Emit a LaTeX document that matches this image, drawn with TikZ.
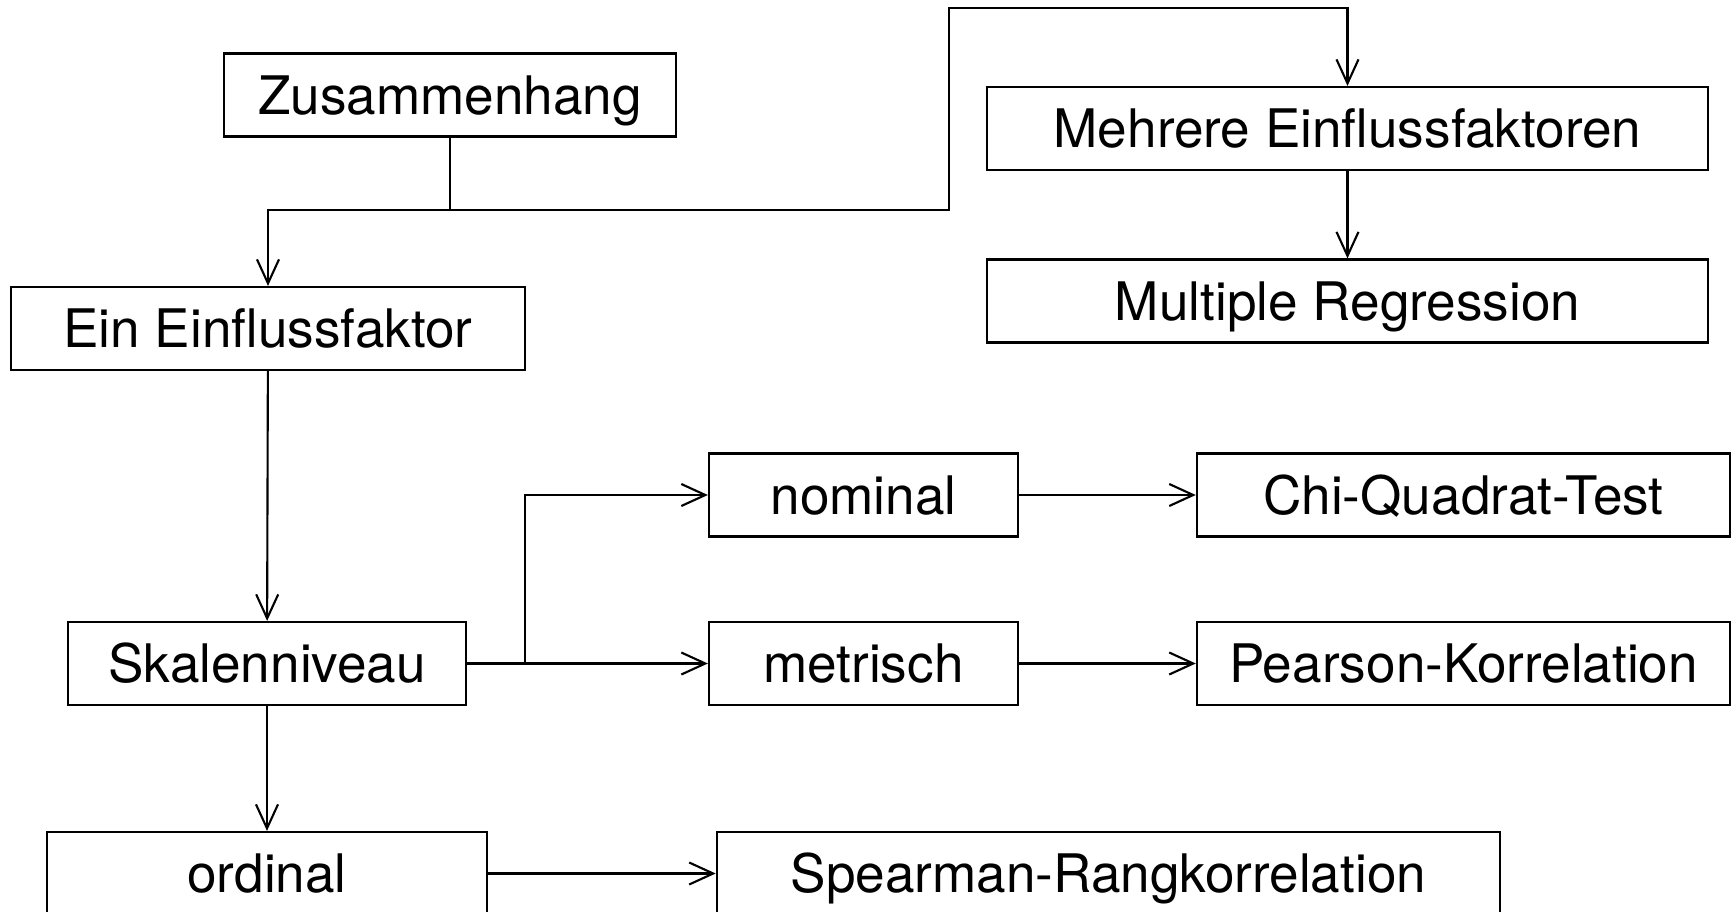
\documentclass[tikz,border=0pt]{standalone}
\usepackage{fontspec}
\setmainfont{TeX Gyre Heros}
\usetikzlibrary{arrows.meta}
\tikzset{
  box/.style={
    draw, line width=0.6pt, inner sep=0pt,
    minimum height=0.83cm, text height=11pt, text depth=0pt,
    font=\fontsize{15.1}{18}\selectfont
  }
}
\tikzset{
  link/.style={line width=0.6pt},
  arr/.style={line width=0.6pt, -{Straight Barb[length=2.4mm,width=2.2mm]}},
}

\begin{document}
\begin{tikzpicture}[x=0.01cm,y=-0.01cm]
\useasboundingbox (0,0) rectangle (1732,912);
\clip (0,0) rectangle (1732,912);

% boxes
\node[box, minimum width=4.52cm] (zus) at (450,95) {Zusammenhang};
\node[box, minimum width=7.21cm] (mehrere) at (1347.5,128.5) {Mehrere Einflussfaktoren};
\node[box, minimum width=7.21cm] (multreg) at (1347.5,301) {Multiple Regression};
\node[box, minimum width=5.14cm] (ein) at (268,328.5) {Ein Einflussfaktor};
\node[box, minimum width=3.98cm] (skala) at (267,663.5) {Skalenniveau};
\node[box, minimum width=3.09cm] (nominal) at (863.5,495) {nominal};
\node[box, minimum width=3.09cm] (metrisch) at (863.5,663.5) {metrisch};
\node[box, minimum width=5.33cm] (chi) at (1463.5,495) {Chi-Quadrat-Test};
\node[box, minimum width=5.33cm] (pearson) at (1463.5,663.5) {Pearson-Korrelation};
\node[box, minimum width=4.40cm] (ordinal) at (267,873.5) {ordinal};
\node[box, minimum width=7.83cm] (spearman) at (1108.5,873.5) {Spearman-Rangkorrelation};

% branch points
\coordinate (join) at (450,210);
\coordinate (up) at (949,210);
\coordinate (top) at (949,8);
\coordinate (fork) at (525,663.5);

% connectors
\draw[link] (zus.south) -- (join);
\draw[arr] (join) -| (ein.north);
\draw[arr] (join) -- (up) -- (top) -| (mehrere.north);
\draw[arr] (mehrere) -- (multreg);
\draw[arr] (ein) -- (skala);
\draw[arr] (skala) -- (ordinal);
\draw[arr] (skala) -- (metrisch);
\draw[arr] (fork) |- (nominal.west);
\draw[arr] (nominal) -- (chi);
\draw[arr] (metrisch) -- (pearson);
\draw[arr] (ordinal) -- (spearman);

\end{tikzpicture}
\end{document}
